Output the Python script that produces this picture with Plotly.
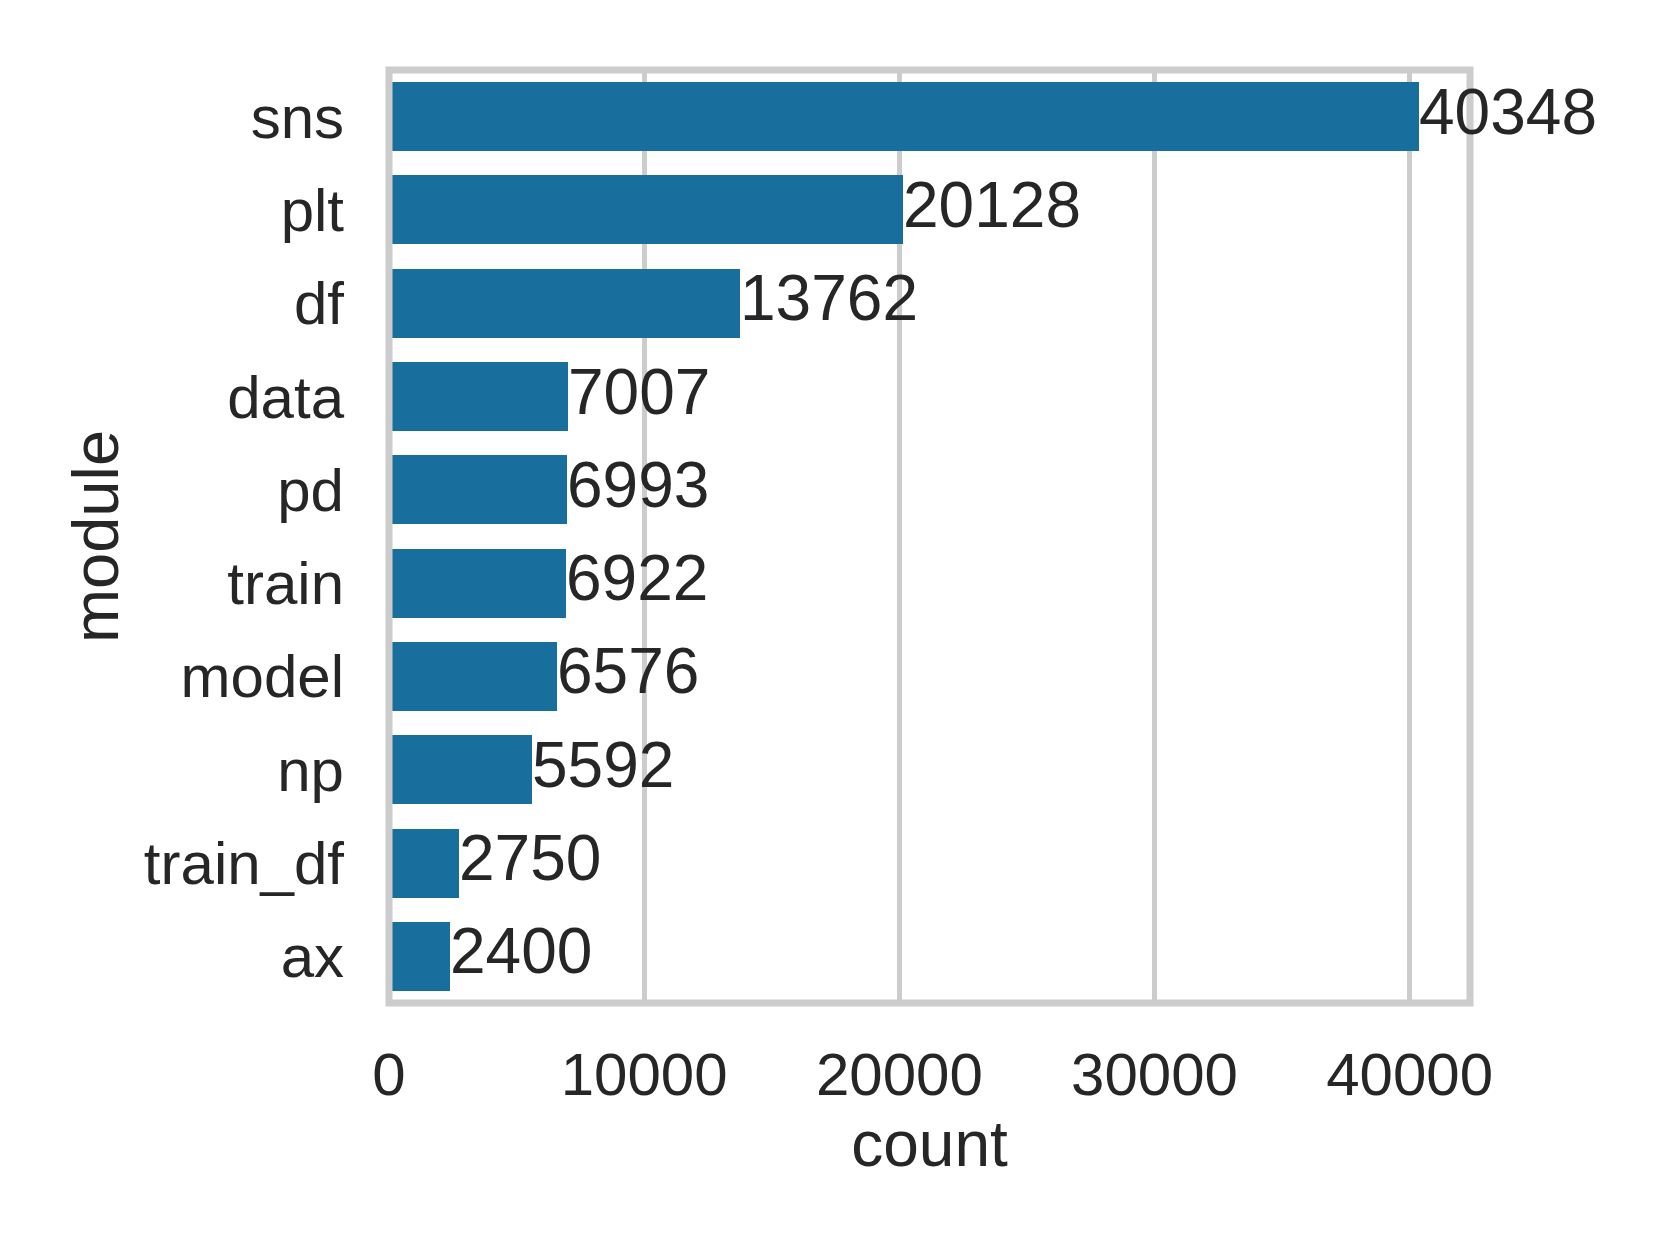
import plotly.graph_objects as go

modules = ["sns", "plt", "df", "data", "pd", "train", "model", "np", "train_df", "ax"]
counts = [40348, 20128, 13762, 7007, 6993, 6922, 6576, 5592, 2750, 2400]
x_ticks = [0, 10000, 20000, 30000, 40000]

BAR_COLOR = "#186e9c"
TEXT_COLOR = "#262626"
GRID_COLOR = "#cccccc"
FONT = "Liberation Sans, Arial, sans-serif"

fig = go.Figure()
fig.add_trace(go.Bar(
    x=counts, y=modules, orientation="h",
    marker=dict(color=BAR_COLOR, line=dict(width=0)),
    width=0.74,
    hoverinfo="skip",
))

for m, c in zip(modules, counts):
    fig.add_annotation(
        x=c, y=m, xref="x", yref="y",
        text=str(c), showarrow=False,
        xanchor="left", yanchor="middle", xshift=-2, yshift=5,
        font=dict(family=FONT, size=64, color=TEXT_COLOR),
    )

# frame (spines)
fig.add_shape(type="rect", xref="paper", yref="paper", x0=0, x1=1, y0=0, y1=1,
              line=dict(color=GRID_COLOR, width=7), layer="above")

fig.update_layout(
    width=1660, height=1245,
    margin=dict(l=380.5, r=197.5, t=61.5, b=249.5, autoexpand=False),
    plot_bgcolor="white", paper_bgcolor="white",
    showlegend=False,
    font=dict(family=FONT, color=TEXT_COLOR),
    bargap=0,
)
fig.update_xaxes(
    range=[0, 42365], tickvals=x_ticks, ticktext=[str(t) for t in x_ticks],
    showgrid=True, gridcolor=GRID_COLOR, gridwidth=5, zeroline=False,
    showline=False, ticks="", tickfont=dict(size=60, color=TEXT_COLOR),
    ticklabelstandoff=31,
    title=dict(text="count", font=dict(size=64, color=TEXT_COLOR), standoff=8),
    automargin=False,
)
fig.update_yaxes(
    categoryorder="array", categoryarray=modules, range=[9.5, -0.5],
    showgrid=False, zeroline=False, showline=False, ticks="",
    tickfont=dict(size=60, color=TEXT_COLOR), ticklabelstandoff=44,
    title=dict(text="module", font=dict(size=65, color=TEXT_COLOR), standoff=4),
    automargin=False,
)

fig.write_html("out.html")
